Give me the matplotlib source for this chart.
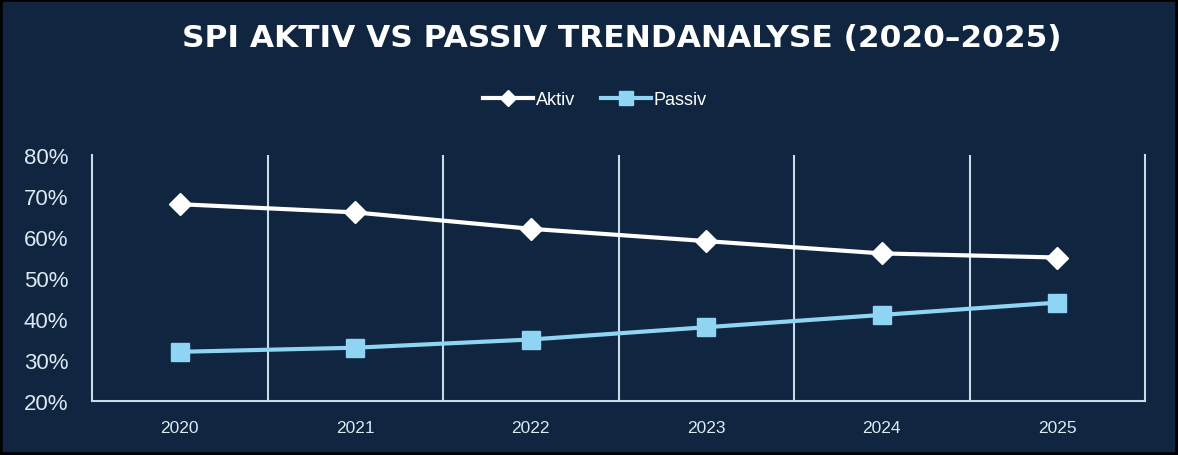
import matplotlib.pyplot as plt
from matplotlib.ticker import FuncFormatter
from matplotlib.patches import Rectangle

years = ["2020", "2021", "2022", "2023", "2024", "2025"]
aktiv = [0.68, 0.66, 0.62, 0.59, 0.56, 0.55]
passiv = [0.32, 0.33, 0.35, 0.38, 0.41, 0.44]

bg = "#10253f"
grid_col = "#c9dbe6"
text_col = "#dde9f1"
passiv_col = "#8fd4f2"

plt.rcParams["font.family"] = ["Liberation Sans", "DejaVu Sans"]

fig = plt.figure(figsize=(11.78, 4.56), dpi=100)
fig.patch.set_facecolor(bg)
fig.patches.append(Rectangle((0, 0), 1, 1, transform=fig.transFigure,
                             fill=False, edgecolor="black", linewidth=4, zorder=10))

ax = fig.add_axes([0.0781, 0.1184, 0.8939, 0.5395])
ax.set_facecolor(bg)

x = range(len(years))
ax.plot(x, aktiv, color="white", lw=3, marker="D", ms=11,
        label="Aktiv", zorder=3)
ax.plot(x, passiv, color=passiv_col, lw=3, marker="s", ms=13,
        label="Passiv", zorder=3)

ax.set_xlim(-0.5, len(years) - 0.5)
ax.set_ylim(0.2, 0.8)
ax.set_yticks([0.2, 0.3, 0.4, 0.5, 0.6, 0.7, 0.8])
ax.yaxis.set_major_formatter(FuncFormatter(lambda v, p: f"{v * 100:.0f}%"))
ax.set_xticks(list(x))
ax.set_xticklabels(years)

# vertical separators between categories
for b in range(1, len(years)):
    ax.axvline(b - 0.5, color=grid_col, lw=1.5, zorder=1)

for side in ["left", "bottom", "right"]:
    ax.spines[side].set_color(grid_col)
    ax.spines[side].set_linewidth(1.5)
ax.spines["top"].set_visible(False)

ax.tick_params(axis="both", length=0, colors=text_col)
ax.tick_params(axis="y", labelsize=16, pad=17)
ax.tick_params(axis="x", labelsize=12.5, pad=14)

fig.text(0.528, 0.915, "SPI AKTIV VS PASSIV TRENDANALYSE (2020–2025)",
         ha="center", va="center", color="white", fontsize=22.5,
         fontweight="bold", family="DejaVu Sans")

leg = fig.legend(loc="center", bbox_to_anchor=(0.505, 0.78), ncol=2,
                 frameon=False, fontsize=13, handlelength=2.8,
                 columnspacing=1.4, handletextpad=0.15, markerscale=0.75)
for t in leg.get_texts():
    t.set_color("white")

fig.savefig("out.png", dpi=100, facecolor=bg)
